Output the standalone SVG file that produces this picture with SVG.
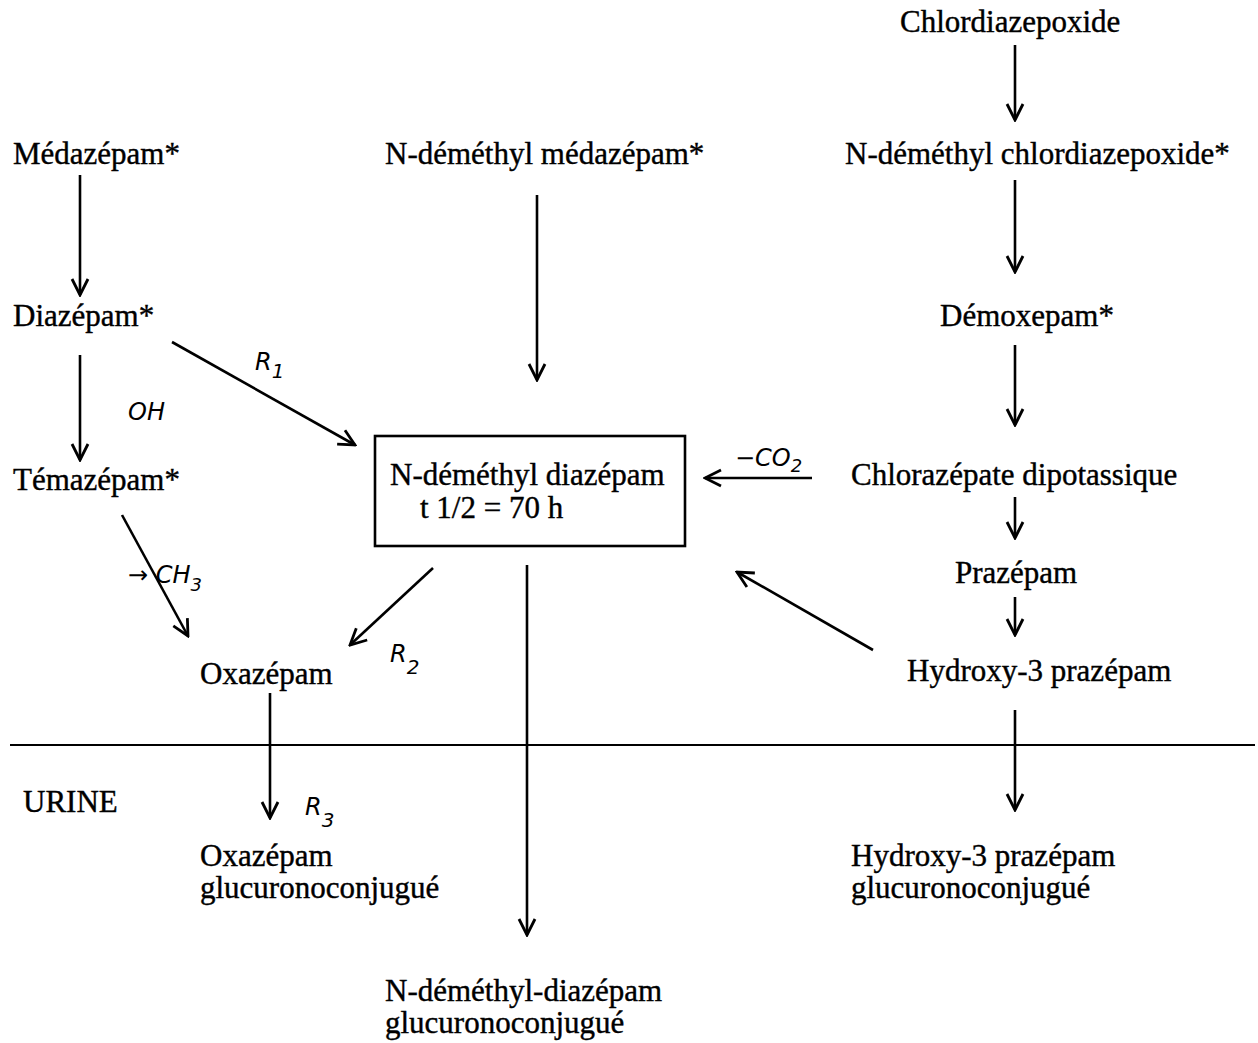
<svg xmlns="http://www.w3.org/2000/svg" width="1258" height="1043" viewBox="0 0 1258 1043">
<style>
.t{font-family:"Liberation Serif","Times New Roman",serif;font-size:31px;fill:#000;stroke:#000;stroke-width:0.4}
.h{font-family:"DejaVu Sans",sans-serif;font-style:italic;font-size:24px;fill:#000;font-weight:300}
.c line{stroke:#000;stroke-width:2.6;marker-end:url(#v)}
</style>
<defs>
<marker id="v" viewBox="0 0 20 20" refX="18" refY="10" markerWidth="20" markerHeight="20" markerUnits="userSpaceOnUse" orient="auto">
<path d="M2,2 L18,10 L2,18" fill="none" stroke="#000" stroke-width="2.8"/>
</marker>
</defs>
<rect width="1258" height="1043" fill="#fff"/>
<g id="chlordiazepoxide"><text class="t" x="900" y="32">Chlordiazepoxide</text></g>
<g id="medazepam"><text class="t" x="13" y="164">Médazépam*</text></g>
<g id="n-demethyl-medazepam"><text class="t" x="385" y="164">N-déméthyl médazépam*</text></g>
<g id="n-demethyl-chlordiazepoxide"><text class="t" x="845" y="164">N-déméthyl chlordiazepoxide*</text></g>
<g id="diazepam"><text class="t" x="13" y="326">Diazépam*</text></g>
<g id="demoxepam"><text class="t" x="940" y="326">Démoxepam*</text></g>
<g id="temazepam"><text class="t" x="13" y="490">Témazépam*</text></g>
<g id="n-demethyl-diazepam">
<rect x="375" y="436" width="310" height="110" fill="none" stroke="#000" stroke-width="2.6"/>
<text class="t" x="390" y="485">N-déméthyl diazépam</text>
<text class="t" x="420" y="518">t 1/2 = 70 h</text>
</g>
<g id="chlorazepate"><text class="t" x="851" y="485">Chlorazépate dipotassique</text></g>
<g id="prazepam"><text class="t" x="955" y="583">Prazépam</text></g>
<g id="hydroxy3-prazepam"><text class="t" x="907" y="681">Hydroxy-3 prazépam</text></g>
<g id="oxazepam"><text class="t" x="200" y="684">Oxazépam</text></g>
<g id="urine"><text class="t" x="23" y="812">URINE</text>
<line x1="10" y1="745" x2="1255" y2="745" stroke="#000" stroke-width="2"/></g>
<g id="oxazepam-gluc"><text class="t" x="200" y="866">Oxazépam</text><text class="t" x="200" y="898">glucuronoconjugué</text></g>
<g id="hydroxy3-gluc"><text class="t" x="851" y="866">Hydroxy-3 prazépam</text><text class="t" x="851" y="898">glucuronoconjugué</text></g>
<g id="n-demethyl-diazepam-gluc"><text class="t" x="385" y="1001">N-déméthyl-diazépam</text><text class="t" x="385" y="1033">glucuronoconjugué</text></g>
<g class="c" id="connectors">
<line x1="1015" y1="45" x2="1015" y2="120"/>
<line x1="80" y1="175" x2="80" y2="295"/>
<line x1="537" y1="195" x2="537" y2="380"/>
<line x1="1015" y1="180" x2="1015" y2="272"/>
<line x1="80" y1="355" x2="80" y2="460"/>
<line x1="1015" y1="345" x2="1015" y2="425"/>
<line x1="172" y1="342" x2="355" y2="445"/>
<line x1="812" y1="478" x2="705" y2="478"/>
<line x1="1015" y1="497" x2="1015" y2="538"/>
<line x1="1015" y1="597" x2="1015" y2="635"/>
<line x1="873" y1="650" x2="737" y2="572"/>
<line x1="122" y1="515" x2="188" y2="636"/>
<line x1="433" y1="568" x2="350" y2="645"/>
<line x1="527" y1="565" x2="527" y2="935"/>
<line x1="270" y1="693" x2="270" y2="818"/>
<line x1="1015" y1="710" x2="1015" y2="810"/>
</g>
<g id="annotations">
<text class="h" x="255" y="370" font-size="30">R<tspan font-size="20" dy="8">1</tspan></text>
<text class="h" x="128" y="420">OH</text>
<text class="h" x="128" y="583">→ CH<tspan font-size="18" dy="8">3</tspan></text>
<text class="h" x="390" y="662" font-size="28">R<tspan font-size="20" dy="12">2</tspan></text>
<text class="h" x="305" y="815" font-size="28">R<tspan font-size="20" dy="12">3</tspan></text>
<text class="h" x="735" y="466">−CO<tspan font-size="18" dy="6">2</tspan></text>
</g>
</svg>
